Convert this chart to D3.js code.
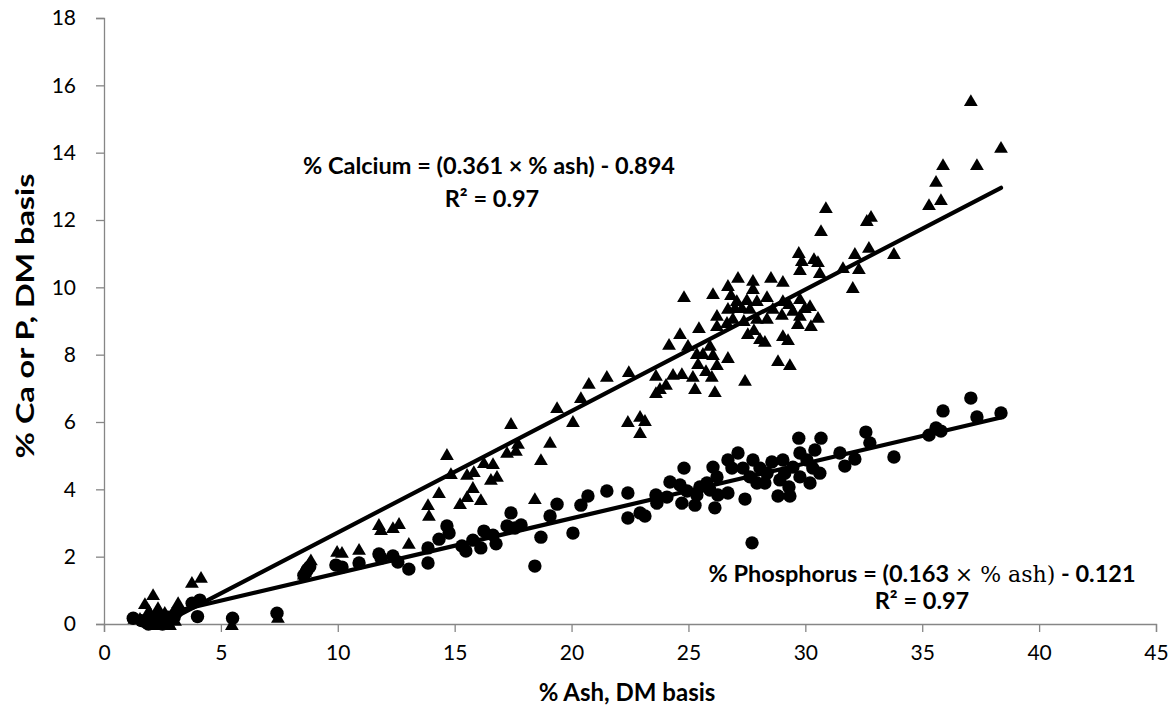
<!DOCTYPE html>
<html>
<head>
<meta charset="utf-8">
<script src="https://cdn.jsdelivr.net/npm/d3@7"></script>
<style>
  body { margin: 0; background: #fff; }
  svg { display: block; font-family: Lato, "Open Sans", sans-serif; }
</style>
</head>
<body>
<div id="chart"></div>
<script>
const xTicks = [0, 5, 10, 15, 20, 25, 30, 35, 40, 45];
const yTicks = [0, 2, 4, 6, 8, 10, 12, 14, 16, 18];

// [% ash, % Ca]
const calcium = [
  [1.30,0.18],[1.54,0.18],[1.71,0.12],[1.75,0.62],[1.88,0.30],[1.92,0.42],[1.97,0.06],[2.10,0.89],
  [2.18,0.24],[2.22,0.00],[2.31,0.50],[2.40,0.12],[2.52,0.00],[2.60,0.36],[2.74,0.09],[2.82,0.00],
  [3.04,0.12],[3.17,0.65],[3.76,1.25],[4.15,1.40],[5.47,0.00],[7.44,0.21],
  [8.55,1.50],[8.60,1.58],[8.65,1.68],[8.75,1.80],[8.85,1.92],
  [9.97,2.17],[10.18,2.14],[10.91,2.23],[11.76,2.97],[11.85,2.82],[12.36,2.88],[12.62,3.00],[13.04,2.41],
  [13.86,3.56],[13.90,3.24],[14.33,3.92],[14.67,5.05],[14.84,4.48],[15.23,3.59],[15.53,4.46],[15.53,3.80],
  [15.78,4.07],[15.82,4.54],[16.12,3.71],[16.25,4.81],[16.55,4.31],[16.64,4.78],[16.81,4.40],[17.24,5.11],
  [17.41,5.97],[17.62,5.17],[17.71,5.38],[18.43,3.74],[18.69,4.90],[19.08,5.41],[19.38,6.44],[20.06,6.03],
  [20.40,6.74],[20.74,7.16],
  [21.51,7.37],[22.45,7.51],[22.41,6.03],[22.93,6.18],[23.14,6.06],[22.93,5.70],[23.61,7.40],[24.34,7.43],
  [24.72,7.45],[25.19,7.37],[26.00,7.37],[27.42,7.25],[24.04,7.13],[23.78,7.01],[23.61,6.89],[25.28,7.01],
  [26.13,6.92],[25.41,7.75],[25.75,7.54],[26.22,7.72],[28.83,7.84],[29.34,7.72],[24.17,8.32],[24.98,8.29],
  [25.92,8.29],[25.36,8.05],[25.62,8.05],[26.05,8.02],[26.69,7.93],[24.64,8.64],[27.54,8.64],[27.80,8.76],
  [28.06,8.49],[28.27,8.41],[29.04,8.58],[29.26,8.46],[26.22,9.18],[26.65,8.97],[26.22,8.88],[25.45,8.82],
  [26.90,9.09],[27.37,9.03],[27.93,9.09],[28.36,9.09],[29.68,8.94],[30.24,8.88],[26.69,9.39],[26.99,9.41],
  [27.29,9.41],[27.63,9.39],[28.61,9.39],[29.30,9.53],[29.77,9.68],[29.98,9.41],[30.20,9.47],[29.47,9.33],
  [29.77,9.18],[29.00,9.21],[30.54,9.12],[24.81,9.74],[26.05,9.83],[26.82,9.80],[27.07,9.62],[27.50,9.65],
  [27.93,9.62],[28.36,9.74],[29.04,9.62],[26.69,10.07],[27.12,10.31],[27.76,10.22],[27.76,9.98],[28.53,10.31],
  [29.04,10.19],[29.72,11.05],[29.85,10.81],[30.37,10.87],[30.54,10.78],[29.77,10.54],[30.62,10.45],[30.67,11.70],
  [30.88,12.38],[31.61,10.60],[32.03,10.01],[32.12,11.02],[32.29,10.57],[32.63,12.00],[32.72,11.20],[32.81,12.12],
  [33.79,11.02],[35.29,12.47],[35.59,13.16],[35.80,12.62],[35.89,13.66],[37.08,15.56],[37.34,13.66],[38.37,14.17]
];

// [% ash, % P]
const phosphorus = [
  [1.25,0.17],[1.60,0.10],[1.80,0.05],[1.90,0.00],[2.00,0.15],[2.15,0.12],[2.20,0.05],[2.30,0.25],
  [2.40,0.10],[2.50,0.00],[2.60,0.05],[2.70,0.20],[2.80,0.15],[3.00,0.20],[3.10,0.35],[3.77,0.62],
  [4.00,0.22],[4.10,0.71],[5.50,0.17],[7.40,0.32],
  [8.55,1.45],[8.65,1.55],[8.70,1.62],[8.80,1.70],
  [9.92,1.75],[10.18,1.69],[10.91,1.81],[11.76,2.08],[11.85,1.96],[12.36,2.02],[12.57,1.84],[13.04,1.63],
  [13.86,2.26],[13.86,1.81],[14.33,2.52],[14.67,2.91],[14.76,2.70],[15.31,2.32],[15.48,2.17],[15.78,2.49],
  [16.12,2.26],[16.25,2.76],[16.64,2.64],[16.77,2.38],[17.24,2.91],[17.41,3.30],[17.58,2.85],[17.84,2.94],
  [18.43,1.72],[18.69,2.58],[19.08,3.21],[19.38,3.56],[20.06,2.70],[20.40,3.53],[20.70,3.80],
  [21.51,3.95],[22.41,3.89],[22.41,3.15],[22.93,3.30],[23.14,3.21],[23.61,3.83],[24.08,3.77],[23.65,3.59],
  [24.72,3.59],[25.28,3.53],[26.13,3.45],[24.81,4.63],[24.21,4.22],[24.64,4.13],[24.94,3.95],[25.36,3.83],
  [26.05,4.66],[26.22,4.37],[25.79,4.19],[25.49,4.07],[25.92,3.98],[26.26,3.83],[26.69,3.89],[27.42,3.71],
  [27.12,5.08],[27.76,4.87],[26.69,4.87],[26.86,4.63],[27.33,4.63],[28.06,4.63],[28.36,4.48],[27.63,4.37],
  [27.93,4.19],[28.27,4.19],[27.72,2.41],[29.04,4.87],[28.57,4.81],[29.12,4.48],[28.91,4.28],[29.30,4.07],
  [29.34,3.80],[28.83,3.80],[29.72,5.52],[30.67,5.52],[30.41,5.17],[29.77,5.08],[30.07,4.87],[30.32,4.63],
  [29.47,4.66],[30.62,4.48],[29.77,4.37],[30.20,4.19],[31.48,5.08],[32.12,4.90],[31.69,4.69],[32.59,5.70],
  [32.76,5.38],[33.79,4.96],[35.29,5.61],[35.59,5.82],[35.80,5.73],[35.89,6.33],[37.08,6.71],[37.34,6.15],
  [38.37,6.27]
];

// trendline: slope, intercept
const caFit = [0.361, -0.894];
const pFit = [0.163, -0.121];

const width = 1171, height = 713;
const margin = { top: 18, right: 15, bottom: 89, left: 104 };

const svg = d3.select('#chart')
  .append('svg')
  .attr('width', width)
  .attr('height', height);

const x = d3.scaleLinear()
  .domain([0, 45])
  .range([margin.left, width - margin.right]);

const y = d3.scaleLinear()
  .domain([0, 18])
  .range([height - margin.bottom, margin.top]);

svg.append('clipPath').attr('id', 'plot')
  .append('rect')
  .attr('x', margin.left).attr('y', margin.top)
  .attr('width', x(45) - x(0)).attr('height', y(0) - y(18));

// axes
const xAxis = svg.append('g')
  .attr('transform', `translate(0,${y(0)})`)
  .call(d3.axisBottom(x).tickValues(xTicks).tickSize(8).tickPadding(13));
const yAxis = svg.append('g')
  .attr('transform', `translate(${x(0)},0)`)
  .call(d3.axisLeft(y).tickValues(yTicks).tickSize(8).tickPadding(20));

[xAxis, yAxis].forEach(g => {
  g.selectAll('path, line').attr('stroke', '#868686').attr('stroke-width', 1.3);
  g.selectAll('text').attr('font-size', 21).attr('fill', '#000')
    .attr('font-family', 'Lato, "Open Sans", sans-serif');
});

svg.append('text')
  .attr('x', 627).attr('y', 701)
  .attr('text-anchor', 'middle')
  .attr('font-size', 24).attr('font-weight', 'bold')
  .text('% Ash, DM basis');

svg.append('text')
  .attr('transform', `translate(34,316) rotate(-90)`)
  .attr('text-anchor', 'middle')
  .attr('font-size', 24).attr('font-weight', 'bold')
  .attr('textLength', 285).attr('lengthAdjust', 'spacingAndGlyphs')
  .text('% Ca or P, DM basis');

// markers
const tri = 'M0,-5.9L6.9,5.9L-6.9,5.9Z';
svg.append('g')
  .selectAll('path')
  .data(calcium)
  .join('path')
    .attr('d', tri)
    .attr('transform', d => `translate(${x(d[0])},${y(d[1])})`)
    .attr('fill', '#000');

svg.append('g')
  .selectAll('circle')
  .data(phosphorus)
  .join('circle')
    .attr('cx', d => x(d[0]))
    .attr('cy', d => y(d[1]))
    .attr('r', 6.7)
    .attr('fill', '#000');

// trendlines over each series' ash range
function trend(data, fit) {
  const ext = d3.extent(data, d => d[0]);
  svg.append('line')
    .attr('clip-path', 'url(#plot)')
    .attr('x1', x(ext[0])).attr('y1', y(fit[0] * ext[0] + fit[1]))
    .attr('x2', x(ext[1])).attr('y2', y(fit[0] * ext[1] + fit[1]))
    .attr('stroke', '#000')
    .attr('stroke-width', 4.2)
    .attr('stroke-linecap', 'round');
}
trend(calcium, caFit);
trend(phosphorus, pFit);

// equation labels
const ca = svg.append('g').attr('font-size', 23.5).attr('font-weight', 'bold')
  .attr('text-anchor', 'middle');
ca.append('text').attr('x', 489).attr('y', 174)
  .text('% Calcium = (0.361 × % ash) - 0.894');
ca.append('text').attr('x', 492).attr('y', 207)
  .text('R² = 0.97');

const p = svg.append('g').attr('font-size', 23.5).attr('font-weight', 'bold')
  .attr('text-anchor', 'middle');
const p1 = p.append('text').attr('x', 922).attr('y', 582);
p1.append('tspan').text('% Phosphorus = (0.163 ');
p1.append('tspan').attr('font-family', '"DejaVu Serif", "Liberation Serif", serif')
  .attr('font-weight', 'normal').attr('font-size', 22).text('× % ash)');
p1.append('tspan').text(' - 0.121');
p.append('text').attr('x', 922).attr('y', 609)
  .text('R² = 0.97');
</script>
</body>
</html>
